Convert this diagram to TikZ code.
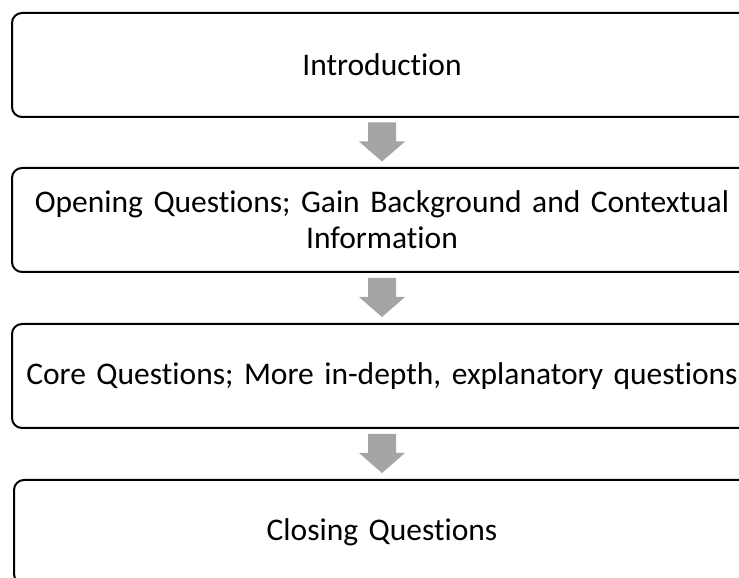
\documentclass[tikz,border=0pt]{standalone}
\usepackage{fontspec}
\setmainfont{Carlito}[Ligatures=NoCommon]
\usetikzlibrary{calc}
\definecolor{arrowgray}{HTML}{A5A5A5}
\tikzset{
  stagebox/.style={draw=black, line width=2pt, rounded corners=10pt, minimum width=740pt, minimum height=104pt, align=center, font=\fontsize{31.5}{36}\selectfont, inner sep=0pt, text width=730pt}
}
\newcommand{\blockarrow}[1]{%
  \fill[arrowgray] ($(#1)+(-14pt,20pt)$) -- ($(#1)+(14pt,20pt)$) -- ($(#1)+(14pt,1pt)$) -- ($(#1)+(23pt,1pt)$) -- ($(#1)+(0pt,-19pt)$) -- ($(#1)+(-23pt,1pt)$) -- ($(#1)+(-14pt,1pt)$) -- cycle;}
\begin{document}
\begin{tikzpicture}[x=1pt,y=1pt]
\useasboundingbox (0,0) rectangle (739,578);
\clip (0,0) rectangle (739,578);
\node[stagebox] (b1) at (382,513) {Introduction};
\node[stagebox] (b2) at (382,358) {Opening Questions; Gain Background and Contextual\\Information};
\node[stagebox] (b3) at (382,202) {Core Questions; More in-depth, explanatory questions};
\node[stagebox, minimum width=736pt] (b4) at (382,46) {Closing Questions};
\coordinate (m1) at ($(b1.south)!0.5!(b2.north)$);
\coordinate (m2) at ($(b2.south)!0.5!(b3.north)$);
\coordinate (m3) at ($(b3.south)!0.5!(b4.north)$);
\blockarrow{m1}
\blockarrow{m2}
\blockarrow{m3}
\end{tikzpicture}
\end{document}
